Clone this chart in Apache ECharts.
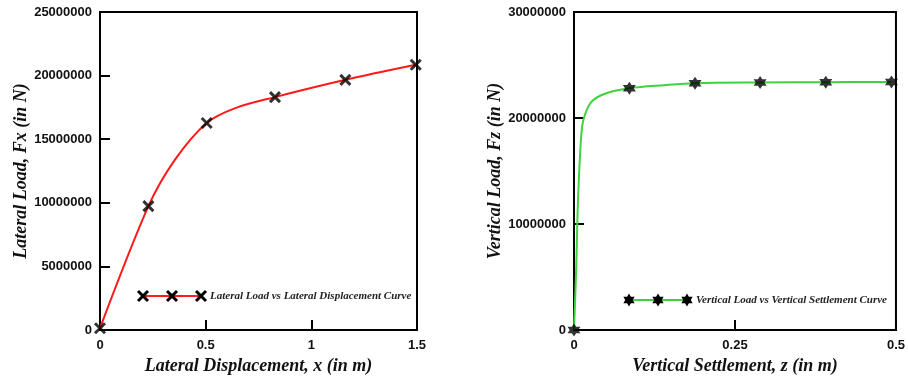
<!DOCTYPE html>
<html>
<head>
<meta charset="utf-8">
<script src="https://cdn.jsdelivr.net/npm/echarts@6/dist/echarts.min.js"></script>
<style>
  html, body { margin: 0; padding: 0; background: #fff; }
  #chart { width: 908px; height: 380px; }
</style>
</head>
<body>
<div id="chart"></div>
<script>
// lateral load vs lateral displacement (left panel)
const lateralMarkX = [0, 0.229, 0.505, 0.828, 1.161, 1.494];
const lateralMarkY = [150000, 9740000, 16280000, 18310000, 19670000, 20850000];
const lateralCurveX = [0, 0.229, 0.355, 0.505, 0.64, 0.828, 1.161, 1.494];
const lateralCurveY = [150000, 9740000, 13400000, 16280000, 17450000, 18310000, 19670000, 20850000];

// vertical load vs vertical settlement (right panel)
const verticalMarkX = [0, 0.086, 0.188, 0.289, 0.391, 0.493];
const verticalMarkY = [0, 22800000, 23290000, 23360000, 23380000, 23410000];
const verticalCurveX = [0, 0.0035, 0.0062, 0.0113, 0.0154, 0.0267, 0.047, 0.086, 0.14, 0.188, 0.289, 0.391, 0.493];
const verticalCurveY = [0, 6000000, 12200000, 18400000, 20000000, 21500000, 22270000, 22800000, 23100000, 23290000, 23360000, 23380000, 23410000];

const lateralName = 'Lateral Load vs Lateral Displacement Curve';
const verticalName = 'Vertical Load vs Vertical Settlement Curve';

const zip = (xs, ys) => xs.map((x, i) => [x, ys[i]]);

const crossPath = 'path://M0,0L10,10M10,0L0,10';
const starPath = 'path://M10,0L12.89,5L18.66,5L15.77,10L18.66,15L12.89,15L10,20L7.11,15L1.34,15L4.23,10L1.34,5L7.11,5Z';

const tickFont = { color: '#111', fontFamily: 'Liberation Sans', fontWeight: 'bold', fontSize: 13 };
const nameFont = { color: '#111', fontFamily: 'Liberation Serif', fontWeight: 'bold', fontStyle: 'italic', fontSize: 18 };

function xAxisOf(grid, max, interval, name) {
    return {
        type: 'value', gridIndex: grid, min: 0, max: max, interval: interval,
        name: name, nameLocation: 'middle', nameGap: 21, nameTextStyle: nameFont,
        axisLine: { lineStyle: { color: '#000', width: 2 } },
        axisTick: { inside: true, length: 10, lineStyle: { color: '#000', width: 2 } },
        axisLabel: Object.assign({ margin: 9, formatter: (v) => String(v) }, tickFont),
        splitLine: { show: false }
    };
}

function yAxisOf(grid, max, interval, name) {
    return {
        type: 'value', gridIndex: grid, min: 0, max: max, interval: interval,
        name: name, nameLocation: 'middle', nameGap: 64, nameTextStyle: nameFont,
        axisLine: { lineStyle: { color: '#000', width: 2 } },
        axisTick: { inside: true, length: 10, lineStyle: { color: '#000', width: 2 } },
        axisLabel: Object.assign({ margin: 8, formatter: (v) => String(v) }, tickFont),
        splitLine: { show: false }
    };
}

// legend drawn by hand: line with three markers + italic label
function legendOf(x0, y, step, lineColor, markerKind, text) {
    let kids = [{
        type: 'line', shape: { x1: x0, y1: y, x2: x0 + 2 * step, y2: y },
        style: { stroke: lineColor, lineWidth: 2 }
    }];
    for (let i = 0; i < 3; i++) {
        let cx = x0 + i * step;
        if (markerKind === 'cross') {
            kids.push({ type: 'line', shape: { x1: cx - 5, y1: y - 5, x2: cx + 5, y2: y + 5 }, style: { stroke: '#000', lineWidth: 3 } });
            kids.push({ type: 'line', shape: { x1: cx + 5, y1: y - 5, x2: cx - 5, y2: y + 5 }, style: { stroke: '#000', lineWidth: 3 } });
        } else {
            let pts = [];
            for (let k = 0; k < 12; k++) {
                let a = -Math.PI / 2 + k * Math.PI / 6;
                let r = k % 2 === 0 ? 6.5 : 3.8;
                pts.push([cx + r * Math.cos(a), y + r * Math.sin(a)]);
            }
            kids.push({ type: 'polygon', shape: { points: pts }, style: { fill: '#000' } });
        }
    }
    kids.push({
        type: 'text', x: x0 + 2 * step + 9, y: y,
        style: { text: text, fill: '#222', font: 'italic bold 11px "Liberation Serif"', verticalAlign: 'middle' }
    });
    return { type: 'group', children: kids };
}

let chart = echarts.init(document.getElementById('chart'));
let option = {
    animation: false,
    grid: [
        { left: 100, top: 12, width: 317, height: 319, show: true, borderColor: '#000', borderWidth: 2 },
        { left: 574, top: 12, width: 324, height: 321, show: true, borderColor: '#000', borderWidth: 2 }
    ],
    xAxis: [
        xAxisOf(0, 1.5, 0.5, 'Lateral Displacement, x (in m)'),
        xAxisOf(1, 0.5, 0.25, 'Vertical Settlement, z (in m)')
    ],
    yAxis: [
        yAxisOf(0, 25000000, 5000000, 'Lateral Load, Fx (in N)'),
        yAxisOf(1, 30000000, 10000000, 'Vertical Load, Fz (in N)')
    ],
    series: [
        {
            type: 'line', xAxisIndex: 0, yAxisIndex: 0, smooth: 0.3, symbol: 'none',
            lineStyle: { color: '#ff1a1a', width: 2 },
            data: zip(lateralCurveX, lateralCurveY)
        },
        {
            type: 'scatter', name: lateralName, xAxisIndex: 0, yAxisIndex: 0,
            symbol: crossPath, symbolSize: 10,
            itemStyle: { color: '#000', borderColor: '#000', borderWidth: 3 },
            data: zip(lateralMarkX, lateralMarkY), z: 5
        },
        {
            type: 'line', xAxisIndex: 1, yAxisIndex: 1, smooth: 0.35, symbol: 'none',
            lineStyle: { color: '#3fd23f', width: 2 },
            data: zip(verticalCurveX, verticalCurveY)
        },
        {
            type: 'scatter', name: verticalName, xAxisIndex: 1, yAxisIndex: 1,
            symbol: starPath, symbolSize: 13,
            itemStyle: { color: '#000' },
            data: zip(verticalMarkX, verticalMarkY), z: 5
        }
    ],
    graphic: [
        legendOf(143, 296, 29, '#ff1a1a', 'cross', lateralName),
        legendOf(629, 300, 29, '#3fd23f', 'star', verticalName)
    ]
};
chart.setOption(option);
</script>
</body>
</html>
